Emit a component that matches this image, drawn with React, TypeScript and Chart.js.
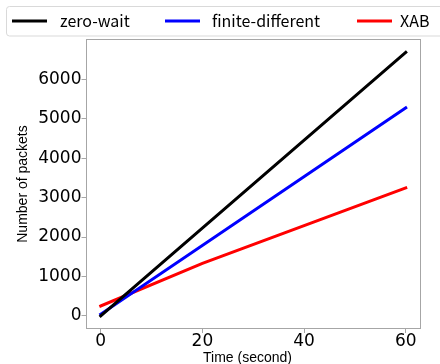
import React, { useEffect, useRef } from "react";
import { Chart, registerables } from "chart.js";

Chart.register(...registerables);

const seriesNames = ["zero-wait", "finite-different", "XAB"];
const seriesColors = ["#000000", "#0000ff", "#ff0000"];
const zeroWaitX = [0, 60];
const zeroWaitY = [0, 6690];
const finiteX = [0, 60];
const finiteY = [40, 5280];
const xabX = [0, 20, 60];
const xabY = [250, 1330, 3250];
const xTicks = [0, 20, 40, 60];
const yTicks = [0, 1000, 2000, 3000, 4000, 5000, 6000];
const xTitle = "Time (second)";
const yTitle = "Number of packets";

const toPts = (xs: number[], ys: number[]) => xs.map((x, i) => ({ x, y: ys[i] }));

const TICK_FONT = "'DejaVu Sans', sans-serif";
const LEGEND_FONT = "'Noto Sans CJK JP', 'Noto Sans', sans-serif";
const TITLE_FONT = "'Liberation Sans', Arial, sans-serif";

const framePlugin = {
  id: "frameAndLegend",
  afterDraw(chart: any) {
    const { ctx, chartArea } = chart;
    ctx.save();
    ctx.strokeStyle = "#a6a6a6";
    ctx.lineWidth = 1;
    const l = Math.round(chartArea.left) + 0.5;
    const t = Math.round(chartArea.top) + 0.5;
    const r = Math.round(chartArea.right) - 0.5;
    const b = Math.round(chartArea.bottom) - 0.5;
    ctx.strokeRect(l, t, r - l, b - t);

    // x axis title
    ctx.font = `14px ${TITLE_FONT}`;
    ctx.fillStyle = "#000";
    ctx.textAlign = "center";
    ctx.textBaseline = "middle";
    ctx.fillText(xTitle, 247.5, 358);

    // legend box
    const bx = 6.5, by = 6.5, bw = 440, bh = 29.5, rad = 3;
    ctx.beginPath();
    ctx.moveTo(bx + rad, by);
    ctx.lineTo(bx + bw - rad, by);
    ctx.arcTo(bx + bw, by, bx + bw, by + rad, rad);
    ctx.lineTo(bx + bw, by + bh - rad);
    ctx.arcTo(bx + bw, by + bh, bx + bw - rad, by + bh, rad);
    ctx.lineTo(bx + rad, by + bh);
    ctx.arcTo(bx, by + bh, bx, by + bh - rad, rad);
    ctx.lineTo(bx, by + rad);
    ctx.arcTo(bx, by, bx + rad, by, rad);
    ctx.closePath();
    ctx.fillStyle = "rgba(255,255,255,0.85)";
    ctx.fill();
    ctx.strokeStyle = "#d9d9d9";
    ctx.stroke();

    const lineStarts = [12, 165, 357];
    const textStarts = [60, 212, 400];
    const ly = 21;
    ctx.font = `16px ${LEGEND_FONT}`;
    ctx.textBaseline = "middle";
    ctx.textAlign = "left";
    chart.data.datasets.forEach((ds: any, i: number) => {
      ctx.beginPath();
      ctx.strokeStyle = ds.borderColor;
      ctx.lineWidth = 3;
      ctx.lineCap = "butt";
      ctx.moveTo(lineStarts[i], ly);
      ctx.lineTo(lineStarts[i] + 35, ly);
      ctx.stroke();
      ctx.fillStyle = "#000";
      ctx.fillText(ds.label, textStarts[i], ly);
    });
    ctx.restore();
  },
};

export default function App() {
  const ref = useRef<HTMLCanvasElement | null>(null);
  useEffect(() => {
    if (!ref.current) return;
    const mk = (i: number, xs: number[], ys: number[]) => ({
      label: seriesNames[i],
      data: toPts(xs, ys),
      borderColor: seriesColors[i],
      backgroundColor: seriesColors[i],
      borderWidth: 3,
      pointRadius: 0,
      borderCapStyle: "square" as const,
      tension: 0,
    });
    const chart = new Chart(ref.current, {
      type: "line",
      data: {
        datasets: [
          mk(0, zeroWaitX, zeroWaitY),
          mk(1, finiteX, finiteY),
          mk(2, xabX, xabY),
        ],
      },
      options: {
        animation: false,
        responsive: false,
        layout: { padding: { top: 39, right: 19, left: 0, bottom: 0 } },
        plugins: { legend: { display: false }, tooltip: { enabled: false } },
        scales: {
          x: {
            type: "linear",
            min: -3,
            max: 63,
            afterBuildTicks: (s: any) => {
              s.ticks = xTicks.map((v) => ({ value: v }));
            },
            afterFit: (s: any) => {
              s.height = 35;
            },
            grid: { drawOnChartArea: false, drawTicks: true, tickLength: 4, color: "#a6a6a6" },
            border: { display: false },
            ticks: {
              padding: -2,
              color: "#000",
              maxRotation: 0,
              font: { family: TICK_FONT, size: 17 },
              callback: (v: any) => String(v),
            },
            title: { display: false },
          },
          y: {
            type: "linear",
            min: -335,
            max: 7031,
            afterBuildTicks: (s: any) => {
              s.ticks = yTicks.map((v) => ({ value: v }));
            },
            afterFit: (s: any) => {
              s.width = 85.5;
            },
            grid: { drawOnChartArea: false, drawTicks: true, tickLength: 4, color: "#a6a6a6" },
            border: { display: false },
            ticks: {
              padding: 0,
              color: "#000",
              font: { family: TICK_FONT, size: 17 },
              callback: (v: any) => String(v),
            },
            title: {
              display: true,
              text: yTitle,
              color: "#000",
              font: { family: TITLE_FONT, size: 14 },
              padding: { top: 14.6, bottom: 0 },
            },
          },
        },
      },
      plugins: [framePlugin],
    });
    return () => chart.destroy();
  }, []);
  return (
    <div style={{ position: "fixed", left: 0, top: 0, width: 440, height: 364, background: "#fff" }}>
      <canvas ref={ref} width={440} height={364} />
    </div>
  );
}
